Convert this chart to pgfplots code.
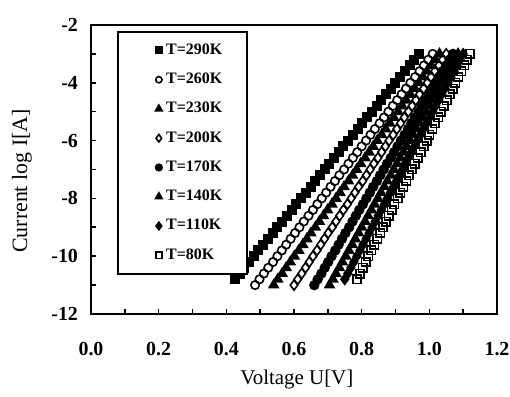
\documentclass[border=0pt]{standalone}
\usepackage{pgfplots}
\pgfplotsset{compat=1.18}
\usepackage{pgfplotstable}
\usepackage{fontspec}
\setmainfont{Liberation Serif}

% log I against U for each temperature
\pgfplotstableread{
y     T290  T260  T230  T200  T170  T140  T110  T80
-11.0 nan   0.485 0.540 0.600 0.660 0.705 nan   nan
-10.8 0.425 0.498 0.552 0.611 0.670 0.715 0.750 0.786
-10.6 0.439 0.511 0.565 0.623 0.681 0.724 0.759 0.795
-10.4 0.453 0.524 0.577 0.634 0.691 0.734 0.768 0.803
-10.2 0.467 0.538 0.589 0.645 0.701 0.743 0.777 0.812
-10.0 0.481 0.551 0.601 0.656 0.711 0.753 0.786 0.820
-9.8  0.495 0.564 0.614 0.668 0.722 0.762 0.795 0.829
-9.6  0.509 0.577 0.626 0.679 0.732 0.772 0.804 0.837
-9.4  0.523 0.590 0.638 0.690 0.742 0.781 0.813 0.846
-9.2  0.537 0.603 0.650 0.701 0.752 0.791 0.822 0.855
-9.0  0.551 0.616 0.663 0.713 0.763 0.800 0.831 0.863
-8.8  0.565 0.629 0.675 0.724 0.773 0.810 0.840 0.872
-8.6  0.579 0.643 0.687 0.735 0.783 0.819 0.849 0.880
-8.4  0.593 0.656 0.699 0.746 0.793 0.829 0.858 0.889
-8.2  0.607 0.669 0.712 0.758 0.804 0.838 0.867 0.897
-8.0  0.621 0.682 0.724 0.769 0.814 0.848 0.876 0.906
-7.8  0.635 0.695 0.736 0.780 0.824 0.857 0.885 0.914
-7.6  0.649 0.708 0.748 0.791 0.834 0.867 0.894 0.923
-7.4  0.663 0.721 0.761 0.803 0.845 0.876 0.903 0.932
-7.2  0.677 0.734 0.773 0.814 0.855 0.886 0.912 0.940
-7.0  0.691 0.748 0.785 0.825 0.865 0.895 0.921 0.949
-6.8  0.704 0.761 0.797 0.836 0.875 0.905 0.929 0.957
-6.6  0.718 0.774 0.810 0.848 0.886 0.914 0.938 0.966
-6.4  0.732 0.787 0.822 0.859 0.896 0.924 0.947 0.974
-6.2  0.746 0.800 0.834 0.870 0.906 0.933 0.956 0.983
-6.0  0.760 0.813 0.846 0.881 0.916 0.943 0.965 0.992
-5.8  0.774 0.826 0.859 0.893 0.927 0.952 0.974 1.000
-5.6  0.788 0.839 0.871 0.904 0.937 0.962 0.983 1.009
-5.4  0.802 0.853 0.883 0.915 0.947 0.971 0.992 1.017
-5.2  0.816 0.866 0.895 0.926 0.957 0.981 1.001 1.026
-5.0  0.830 0.879 0.908 0.938 0.968 0.990 1.010 1.034
-4.8  0.844 0.892 0.920 0.949 0.978 1.000 1.019 1.043
-4.6  0.858 0.905 0.932 0.960 0.988 1.009 1.028 1.051
-4.4  0.872 0.918 0.944 0.971 0.998 1.019 1.037 1.060
-4.2  0.886 0.931 0.957 0.983 1.009 1.028 1.046 1.069
-4.0  0.900 0.944 0.969 0.994 1.019 1.038 1.055 1.077
-3.8  0.914 0.958 0.981 1.005 1.029 1.047 1.064 1.086
-3.6  0.928 0.971 0.993 1.016 1.039 1.057 1.073 1.094
-3.4  0.942 0.984 1.006 1.028 1.050 1.066 1.082 1.103
-3.2  0.956 0.997 1.018 1.039 1.060 1.076 1.091 1.111
-3.0  0.970 1.010 1.030 1.050 1.070 1.085 1.100 1.120
}\ivdata

\begin{document}
\begin{tikzpicture}
\begin{axis}[
    name=ax,
    width=203bp, height=144.5bp, scale only axis,
    xmin=0, xmax=1.2, ymin=-12, ymax=-2,
    xtick={0,0.2,0.4,0.6,0.8,1.0,1.2},
    ytick={-12,-10,-8,-6,-4,-2},
    minor x tick num=1, minor y tick num=1,
    xtick pos=left, ytick pos=left,
    tick align=inside,
    major tick length=2.5bp, minor tick length=2.5bp,
    every tick/.style={black, line width=0.8bp},
    axis line style={line width=1bp},
    xticklabel style={/pgf/number format/fixed, /pgf/number format/fixed zerofill,
        /pgf/number format/precision=1, yshift=-10.5bp, inner xsep=0pt},
    yticklabel style={xshift=-3bp},
    /pgf/number format/assume math mode=true,
    tick label style={font=\fontsize{10}{12}\selectfont\bfseries},
    xlabel={Voltage U[V]},
    ylabel={Current log I[A]},
    every axis x label/.style={at={(axis description cs:0.507,-0.228)}, anchor=center,
        font=\fontsize{10.5}{12}\selectfont},
    every axis y label/.style={at={(axis description cs:-0.17,0.46)}, rotate=90, anchor=center,
        font=\fontsize{11}{13}\selectfont},
    legend style={at={(axis description cs:0.063,0.979)}, anchor=north west,
        draw=black, line width=1bp, inner xsep=10.5bp, inner ysep=3.8bp,
        row sep=3.85bp, font=\fontsize{8}{9}\selectfont\bfseries},
    legend cell align=left,
    legend image code/.code={\path (-5.5bp,0bp) (0bp,0bp);
        \draw[mark repeat=2,mark phase=2,every mark/.append style={scale=0.75}]
        plot coordinates {(0cm,0cm) (0.15cm,0cm) (0.3cm,0cm)};},
    every axis plot/.append style={only marks, black, line width=0.8bp},
]
\addplot[mark=square*, mark size=2.1bp] table[x=T290, y=y] {\ivdata};
\addplot[mark=o, mark size=2.1bp] table[x=T260, y=y] {\ivdata};
\addplot[mark=triangle*, mark size=2.6bp] table[x=T230, y=y] {\ivdata};
\addplot[mark=diamond, mark size=2.5bp] table[x=T200, y=y] {\ivdata};
\addplot[mark=*, mark size=2.2bp] table[x=T170, y=y] {\ivdata};
\addplot[mark=triangle*, mark size=2.6bp] table[x=T140, y=y] {\ivdata};
\addplot[mark=diamond*, mark size=2.5bp] table[x=T110, y=y] {\ivdata};
\addplot[mark=square, mark size=2.1bp] table[x=T80, y=y] {\ivdata};
\legend{T=290K, T=260K, T=230K, T=200K, T=170K, T=140K, T=110K, T=80K}
\end{axis}
\path ([xshift=-45.5bp,yshift=-39bp]ax.south west) rectangle ([xshift=6.5bp,yshift=12.5bp]ax.north east);
\end{tikzpicture}
\end{document}
